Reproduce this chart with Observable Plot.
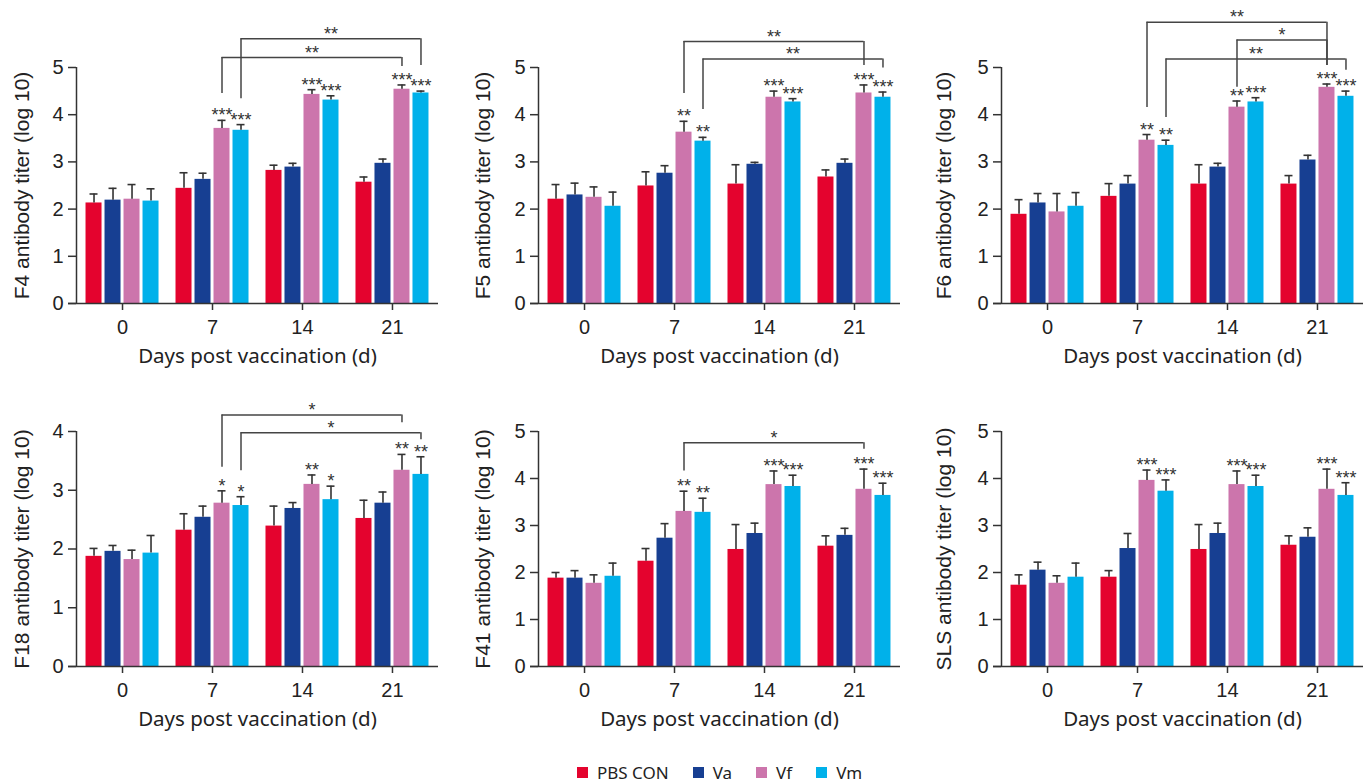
<!DOCTYPE html>
<html>
<head>
<meta charset="utf-8">
<script src="https://cdn.jsdelivr.net/npm/d3@7"></script>
<script src="https://cdn.jsdelivr.net/npm/@observablehq/plot@0.6"></script>
<style>
  html, body { margin: 0; padding: 0; background: #fff; }
  body { width: 1368px; height: 782px; position: relative; overflow: hidden; }
  .panel { position: absolute; }
  .legend { position: absolute; left: 577px; top: 761px; height: 22px; display: flex; align-items: center;
            font-family: "Noto Sans", sans-serif; font-size: 17px; color: #222; }
  .legend .item { display: flex; align-items: center; margin-right: 24px; }
  .legend .sw { width: 11px; height: 11px; margin-right: 9px; }
</style>
</head>
<body>
<div id="root"></div>
<script>
// ---------- data ----------
const days = [0, 7, 14, 21];
const groups = ["PBS CON", "Va", "Vf", "Vm"];
const groupColors = ["#e4032e", "#173f92", "#cc75ac", "#00b1ea"];
const xTitle = "Days post vaccination (d)";

// rows = groups (PBS CON, Va, Vf, Vm), columns = days (0, 7, 14, 21)
const f4Mean  = [[2.13, 2.44, 2.82, 2.57], [2.19, 2.63, 2.89, 2.97], [2.21, 3.71, 4.43, 4.54], [2.17, 3.67, 4.31, 4.46]];
const f4Upper = [[2.32, 2.77, 2.93, 2.68], [2.44, 2.76, 2.97, 3.06], [2.52, 3.88, 4.53, 4.63], [2.43, 3.79, 4.40, 4.50]];
const f4Stars = [["", "", "", ""], ["", "", "", ""], ["", "***", "***", "***"], ["", "***", "***", "***"]];
const f4Brackets = [
  {from: [7, "Vf"], to: [21, "Vf"], top: 5.21, low1: 4.45, low2: 5.02, label: "**"},
  {from: [7, "Vm"], to: [21, "Vm"], top: 5.61, low1: 4.34, low2: 5.04, label: "**"}
];

const f5Mean  = [[2.21, 2.49, 2.53, 2.68], [2.30, 2.76, 2.95, 2.97], [2.25, 3.63, 4.37, 4.46], [2.06, 3.44, 4.27, 4.37]];
const f5Upper = [[2.52, 2.79, 2.94, 2.83], [2.55, 2.92, 2.99, 3.06], [2.47, 3.86, 4.50, 4.63], [2.36, 3.52, 4.34, 4.48]];
const f5Stars = [["", "", "", ""], ["", "", "", ""], ["", "**", "***", "***"], ["", "**", "***", "***"]];
const f5Brackets = [
  {from: [7, "Vf"], to: [21, "Vf"], top: 5.55, low1: 4.45, low2: 5.04, label: "**"},
  {from: [7, "Vm"], to: [21, "Vm"], top: 5.18, low1: 4.11, low2: 4.99, label: "**"}
];

const f6Mean  = [[1.89, 2.27, 2.53, 2.53], [2.13, 2.53, 2.89, 3.04], [1.94, 3.46, 4.16, 4.58], [2.06, 3.35, 4.27, 4.39]];
const f6Upper = [[2.20, 2.54, 2.94, 2.71], [2.33, 2.71, 2.97, 3.14], [2.33, 3.58, 4.29, 4.65], [2.35, 3.46, 4.36, 4.50]];
const f6Stars = [["", "", "", ""], ["", "", "", ""], ["", "**", "**", "***"], ["", "**", "***", "***"]];
const f6Brackets = [
  {from: [7, "Vf"], to: [21, "Vf"], top: 5.96, low1: 4.15, low2: 5.04, label: "**"},
  {from: [14, "Vf"], to: [21, "Vf"], top: 5.58, low1: 4.58, low2: 5.04, label: "*"},
  {from: [7, "Vm"], to: [21, "Vm"], top: 5.18, low1: 3.94, low2: 4.94, label: "**"}
];

const f18Mean  = [[1.875, 2.32, 2.39, 2.52], [1.96, 2.54, 2.69, 2.78], [1.82, 2.78, 3.10, 3.34], [1.93, 2.74, 2.84, 3.27]];
const f18Upper = [[2.01, 2.60, 2.73, 2.83], [2.06, 2.73, 2.79, 2.97], [1.98, 2.99, 3.26, 3.61], [2.23, 2.89, 3.07, 3.57]];
const f18Stars = [["", "", "", ""], ["", "", "", ""], ["", "*", "**", "**"], ["", "*", "*", "**"]];
const f18Brackets = [
  {from: [7, "Vf"], to: [21, "Vf"], top: 4.28, low1: 3.39, low2: 4.15, label: "*"},
  {from: [7, "Vm"], to: [21, "Vm"], top: 3.98, low1: 3.33, low2: 3.86, label: "*"}
];

const f41Mean  = [[1.88, 2.24, 2.49, 2.56], [1.88, 2.73, 2.83, 2.79], [1.77, 3.30, 3.87, 3.77], [1.92, 3.28, 3.83, 3.64]];
const f41Upper = [[2.00, 2.51, 3.02, 2.78], [2.04, 3.04, 3.05, 2.94], [1.95, 3.73, 4.16, 4.20], [2.20, 3.58, 4.07, 3.90]];
const f41Stars = [["", "", "", ""], ["", "", "", ""], ["", "**", "***", "***"], ["", "**", "***", "***"]];
const f41Brackets = [
  {from: [7, "Vf"], to: [21, "Vf"], top: 4.76, low1: 4.16, low2: 4.62, label: "*"}
];

const slsMean  = [[1.73, 1.90, 2.49, 2.58], [2.05, 2.51, 2.83, 2.75], [1.77, 3.96, 3.87, 3.77], [1.90, 3.73, 3.83, 3.64]];
const slsUpper = [[1.95, 2.04, 3.02, 2.78], [2.22, 2.83, 3.05, 2.95], [1.93, 4.18, 4.16, 4.20], [2.20, 3.97, 4.07, 3.91]];
const slsStars = [["", "", "", ""], ["", "", "", ""], ["", "***", "***", "***"], ["", "***", "***", "***"]];
const slsBrackets = [];

// ---------- layout ----------
const W = 443, ML = 76, MR = 5, MB = 77;
const xDomain = [-3.58, 24.58];
const dayPerPx = (xDomain[1] - xDomain[0]) / (W - ML - MR);
const SLOT = 19 * dayPerPx, HALF = 8 * dayPerPx, CAP = 4 * dayPerPx;
const FONT = "'Liberation Sans', Arial, sans-serif";
const TITLE_FONT = "'Noto Sans', sans-serif";

function panel({label, yMax, mean, upper, stars, brackets, left, top, height, mt, labelDx}) {
  const rows = [];
  groups.forEach((g, gi) => days.forEach((d, di) => rows.push({
    day: d, group: g, gi, mean: mean[gi][di], upper: upper[gi][di], star: stars[gi][di]
  })));
  const cx = r => r.day + (r.gi - 1.5) * SLOT;
  const pos = ([d, g]) => d + (groups.indexOf(g) - 1.5) * SLOT;
  const legs = brackets.flatMap(b => [
    {x: pos(b.from), y1: b.low1, y2: b.top},
    {x: pos(b.to), y1: b.low2, y2: b.top}
  ]);
  const starOpts = {fontFamily: FONT, fontSize: 18, fill: "#333", lineAnchor: "bottom", textAnchor: "middle"};
  const chart = Plot.plot({
    width: W, height, marginLeft: ML, marginRight: MR, marginTop: mt, marginBottom: MB,
    x: {domain: xDomain, axis: null},
    y: {domain: [0, yMax], axis: null},
    color: {domain: groups, range: groupColors},
    style: {fontFamily: FONT, fontSize: "20px", color: "#222", background: "transparent", overflow: "visible"},
    marks: [
      Plot.rect(rows, {x1: r => cx(r) - HALF, x2: r => cx(r) + HALF, y1: 0, y2: "mean", fill: "group"}),
      Plot.ruleX(rows, {x: cx, y1: "mean", y2: "upper", stroke: "#333", strokeWidth: 1.6}),
      Plot.ruleY(rows, {y: "upper", x1: r => cx(r) - CAP, x2: r => cx(r) + CAP, stroke: "#333", strokeWidth: 1.6}),
      Plot.text(rows.filter(r => r.star), {x: cx, y: "upper", text: "star", dy: 1, ...starOpts}),
      Plot.ruleX(legs, {x: "x", y1: "y1", y2: "y2", stroke: "#444", strokeWidth: 1.5}),
      Plot.ruleY(brackets, {y: "top", x1: b => pos(b.from), x2: b => pos(b.to), stroke: "#444", strokeWidth: 1.5}),
      Plot.text(brackets, {x: b => (pos(b.from) + pos(b.to)) / 2, y: "top", text: "label", dy: 1, ...starOpts}),
      Plot.ruleY([0], {insetLeft: -8, stroke: "#333", strokeWidth: 1.5}),
      Plot.ruleX([xDomain[0]], {y1: 0, y2: yMax, stroke: "#333", strokeWidth: 1.5}),
      Plot.axisX({ticks: days, tickSize: 7, tickPadding: 9, tickFormat: d => String(d), label: null,
                  fontSize: 20, fontFamily: FONT, stroke: "#333", strokeWidth: 1.5}),
      Plot.axisY({ticks: d3.range(0, yMax + 1), tickSize: 8, tickPadding: 5, tickFormat: d => String(d), label: null,
                  fontSize: 20, fontFamily: FONT, stroke: "#333", strokeWidth: 1.5}),
      Plot.text([xTitle], {text: d => d, frameAnchor: "bottom", dy: 59, fontFamily: TITLE_FONT, fontSize: 20.5, fill: "#222"}),
      Plot.text([label], {text: d => d, frameAnchor: "left", textAnchor: "middle", lineAnchor: "middle", rotate: -90,
                          dx: labelDx, fontFamily: FONT, fontSize: 21, fill: "#222"})
    ]
  });
  const div = document.createElement("div");
  div.className = "panel";
  div.style.left = left + "px";
  div.style.top = top + "px";
  div.appendChild(chart);
  document.getElementById("root").appendChild(div);
}

const colLeft = [0, 462, 925];
const labelDx = [-54, -55, -57];
const row1 = {top: 0, height: 380, mt: 67};
const row2 = {top: 380, height: 363, mt: 51};

panel({label: "F4 antibody titer (log 10)", yMax: 5, mean: f4Mean, upper: f4Upper, stars: f4Stars, brackets: f4Brackets, left: colLeft[0], labelDx: labelDx[0], ...row1});
panel({label: "F5 antibody titer (log 10)", yMax: 5, mean: f5Mean, upper: f5Upper, stars: f5Stars, brackets: f5Brackets, left: colLeft[1], labelDx: labelDx[1], ...row1});
panel({label: "F6 antibody titer (log 10)", yMax: 5, mean: f6Mean, upper: f6Upper, stars: f6Stars, brackets: f6Brackets, left: colLeft[2], labelDx: labelDx[2], ...row1});
panel({label: "F18 antibody titer (log 10)", yMax: 4, mean: f18Mean, upper: f18Upper, stars: f18Stars, brackets: f18Brackets, left: colLeft[0], labelDx: labelDx[0], ...row2});
panel({label: "F41 antibody titer (log 10)", yMax: 5, mean: f41Mean, upper: f41Upper, stars: f41Stars, brackets: f41Brackets, left: colLeft[1], labelDx: labelDx[1], ...row2});
panel({label: "SLS antibody titer (log 10)", yMax: 5, mean: slsMean, upper: slsUpper, stars: slsStars, brackets: slsBrackets, left: colLeft[2], labelDx: labelDx[2], ...row2});

// ---------- legend ----------
const legend = document.createElement("div");
legend.className = "legend";
groups.forEach((g, i) => {
  const item = document.createElement("div");
  item.className = "item";
  const sw = document.createElement("div");
  sw.className = "sw";
  sw.style.background = groupColors[i];
  const t = document.createElement("span");
  t.textContent = g;
  item.appendChild(sw);
  item.appendChild(t);
  legend.appendChild(item);
});
document.body.appendChild(legend);
</script>
</body>
</html>
